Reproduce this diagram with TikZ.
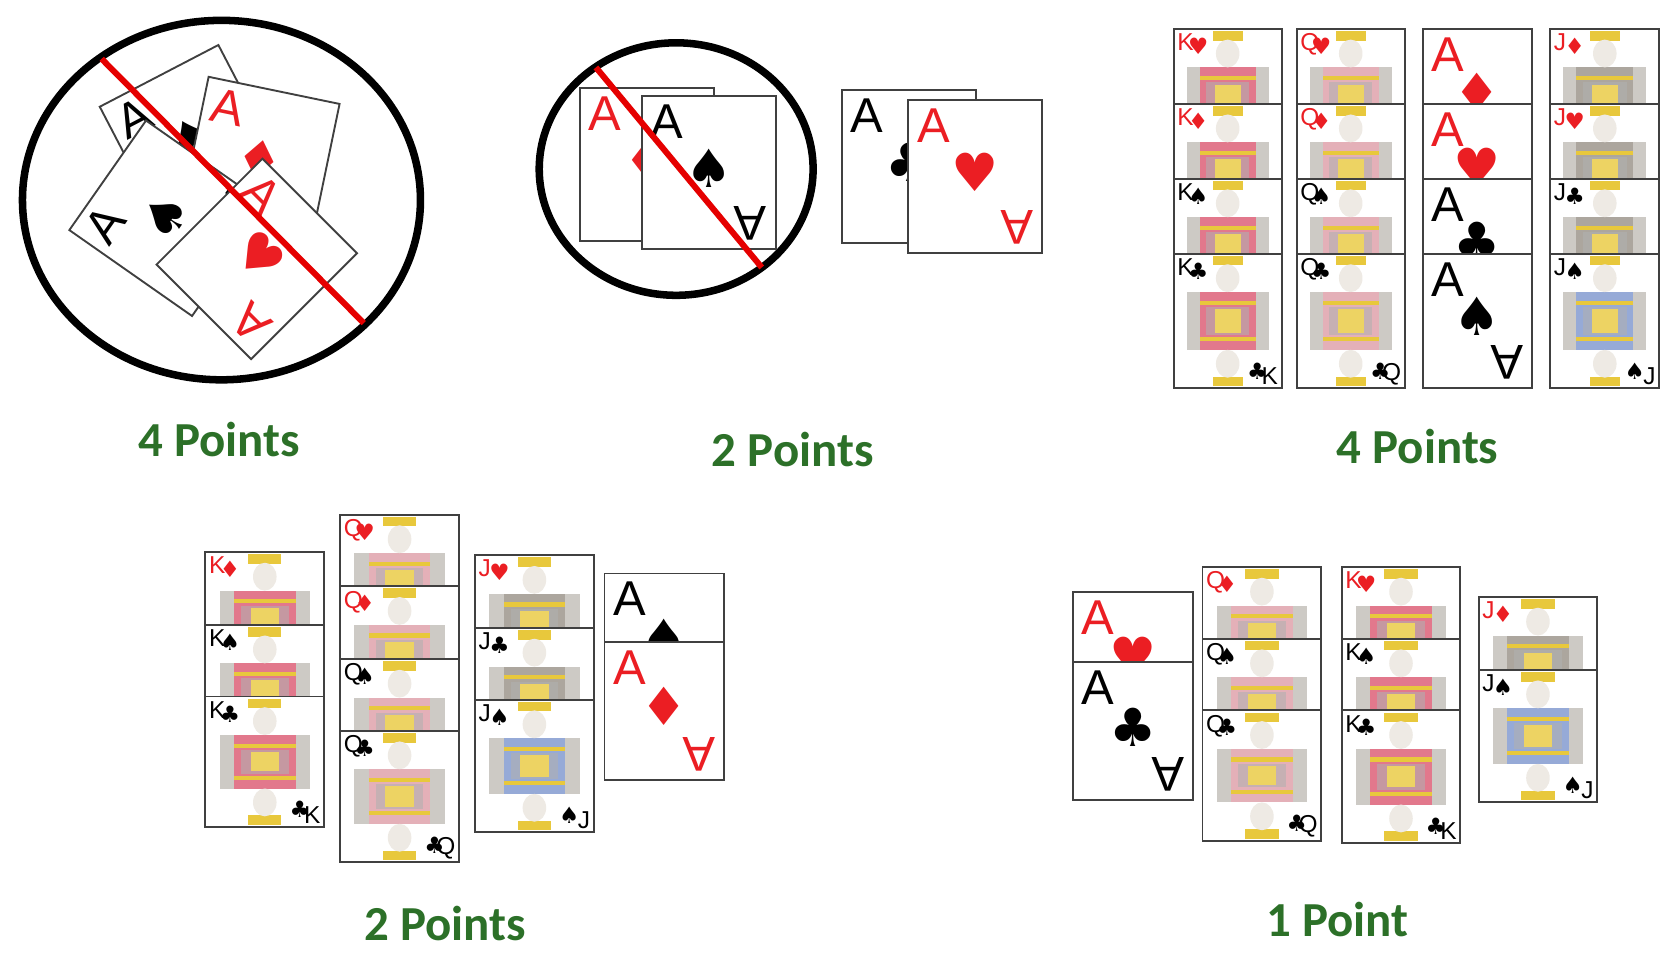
\documentclass[tikz,border=0pt]{standalone}
\usepackage{fontspec}
\setmainfont{Carlito}
\newfontfamily\arf{Liberation Sans}
\newfontfamily\djf{DejaVu Sans}
\definecolor{ptgreen}{RGB}{44,112,40}
\definecolor{cardred}{RGB}{235,30,35}
\definecolor{crownc}{RGB}{232,200,60}
\definecolor{skinc}{RGB}{238,234,228}
\definecolor{kingc}{RGB}{226,120,140}
\definecolor{queenc}{RGB}{228,176,184}
\definecolor{jackc}{RGB}{172,166,158}
\definecolor{jblue}{RGB}{150,170,215}
\tikzset{
  cardline/.style={draw=black!75,line width=0.5pt},
  acel/.style={font=\arf\fontsize{13}{13}\selectfont,inner sep=1pt},
  suitl/.style={font=\djf\fontsize{14}{14}\selectfont,inner sep=0pt},
  idx/.style={font=\arf\fontsize{6.5}{6.5}\selectfont,inner sep=0.5pt},
  idxs/.style={font=\djf\fontsize{6}{6}\selectfont,inner sep=0.5pt},
  pts/.style={font=\bfseries\fontsize{13}{14}\selectfont,text=ptgreen},
  ring/.style={draw=black,line width=2pt},
  cut/.style={draw=red!90!black,line width=1.6pt}
}
% ace card: cx cy rot w h color suit
\newcommand\ace[7]{%
\begin{scope}[shift={(#1,#2)},rotate=#3]
\filldraw[fill=white,cardline] (-#4/2,-#5/2) rectangle (#4/2,#5/2);
\node[acel,text=#6,anchor=north west,transform shape] at (-#4/2+4,-#5/2+4) {A};
\node[suitl,text=#6,transform shape] at (0,-4) {#7};
\node[acel,text=#6,rotate=180,anchor=north west,transform shape] at (#4/2-4,#5/2-4) {A};
\end{scope}}
% face card: x ytop w h letter color suit bodycolor
\newcommand\face[8]{%
\begin{scope}[shift={(#1,#2)}]
\fill[white] (0,0) rectangle (#3,#4);
\fill[#8] (0.12*#3,36) rectangle (0.88*#3,#4-36);
\fill[crownc] (0.12*#3,44) rectangle (0.88*#3,48);
\fill[crownc] (0.12*#3,#4-48) rectangle (0.88*#3,#4-44);
\fill[#8!70!black!60] (0.3*#3,50) rectangle (0.7*#3,#4-50);
\fill[crownc!80!white] (0.38*#3,52) rectangle (0.62*#3,#4-52);
\fill[jackc!60] (0.12*#3,36) rectangle (0.24*#3,#4-36);
\fill[jackc!60] (0.76*#3,36) rectangle (0.88*#3,#4-36);
\fill[crownc] (0.36*#3,2) rectangle (0.64*#3,11);
\fill[skinc] (0.5*#3,23) ellipse (11 and 13);
\fill[crownc] (0.36*#3,#4-2) rectangle (0.64*#3,#4-11);
\fill[skinc] (0.5*#3,#4-23) ellipse (11 and 13);
\draw[cardline] (0,0) rectangle (#3,#4);
\node[idx,text=#6,anchor=north west] at (1,2) {#5};
\node[idxs,text=#6,anchor=north west] at (11,6) {#7};
\node[idx,text=#6,anchor=south east] at (#3-1,#4-1) {#5};
\node[idxs,text=#6,anchor=south east] at (#3-11,#4-6) {#7};
\end{scope}}
% stacked ace: x ytop w h color suit
\newcommand\sace[6]{\ace{#1+#3/2}{#2+#4/2}{0}{#3}{#4}{#5}{#6}}
\begin{document}
\begin{tikzpicture}[x=0.01cm,y=-0.01cm]
\useasboundingbox (0,0) rectangle (1560,893);
% ---- panel 1
\draw[ring] (207,187) ellipse (186 and 168);
\ace{181}{133}{27.5}{125}{140}{black}{♠}
\ace{242}{153}{-11.7}{125}{140}{cardred}{♦}
\ace{158}{204}{55}{125}{140}{black}{♠}
\ace{240}{242}{-45}{125}{140}{cardred}{♥}
\draw[cut] (95,55) -- (340,302);
\node[pts] (p1) at (205,411) {4 Points};
% ---- panel 2
\draw[ring] (632,158) ellipse (128 and 118);
\ace{604.5}{153.5}{0}{125}{143}{cardred}{♦}
\ace{662.5}{161.5}{0}{125}{143}{black}{♠}
\draw[cut] (557,63) -- (712,250);
\ace{849.5}{155.5}{0}{125}{143}{black}{♣}
\ace{911.5}{165}{0}{125}{143}{cardred}{♥}
\node[pts] (p2) at (741,420) {2 Points};
% ---- panel 3
\face{1097}{27}{101}{126}{K}{cardred}{♥}{kingc}
\face{1097}{97}{101}{126}{K}{cardred}{♦}{kingc}
\face{1097}{167}{101}{126}{K}{black}{♠}{kingc}
\face{1097}{237}{101}{126}{K}{black}{♣}{kingc}
\face{1212}{27}{101}{126}{Q}{cardred}{♥}{queenc}
\face{1212}{97}{101}{126}{Q}{cardred}{♦}{queenc}
\face{1212}{167}{101}{126}{Q}{black}{♠}{queenc}
\face{1212}{237}{101}{126}{Q}{black}{♣}{queenc}
\sace{1330}{27}{102}{126}{cardred}{♦}
\sace{1330}{97}{102}{126}{cardred}{♥}
\sace{1330}{167}{102}{126}{black}{♣}
\sace{1330}{237}{102}{126}{black}{♠}
\face{1449}{27}{102}{126}{J}{cardred}{♦}{jackc}
\face{1449}{97}{102}{126}{J}{cardred}{♥}{jackc}
\face{1449}{167}{102}{126}{J}{black}{♣}{jackc}
\face{1449}{237}{102}{126}{J}{black}{♠}{jblue}
\node[pts] (p3) at (1325,417) {4 Points};
% ---- panel 4
\face{192}{516}{111}{122}{K}{cardred}{♦}{kingc}
\face{192}{584}{111}{122}{K}{black}{♠}{kingc}
\face{192}{651}{111}{122}{K}{black}{♣}{kingc}
\face{318}{481}{111}{123}{Q}{cardred}{♥}{queenc}
\face{318}{548}{111}{123}{Q}{cardred}{♦}{queenc}
\face{318}{616}{111}{123}{Q}{black}{♠}{queenc}
\face{318}{683}{111}{123}{Q}{black}{♣}{queenc}
\face{444}{519}{111}{124}{J}{cardred}{♥}{jackc}
\face{444}{587}{111}{124}{J}{black}{♣}{jackc}
\face{444}{654}{111}{124}{J}{black}{♠}{jblue}
\sace{565}{536}{112}{129}{black}{♠}
\sace{565}{600}{112}{129}{cardred}{♦}
\node[pts] (p4) at (416,863) {2 Points};
% ---- panel 5
\sace{1003}{553}{112}{129}{cardred}{♥}
\sace{1003}{619}{112}{129}{black}{♣}
\face{1124}{530}{111}{122}{Q}{cardred}{♦}{queenc}
\face{1124}{597}{111}{122}{Q}{black}{♠}{queenc}
\face{1124}{664}{111}{122}{Q}{black}{♣}{queenc}
\face{1254}{530}{111}{124}{K}{cardred}{♥}{kingc}
\face{1254}{597}{111}{124}{K}{black}{♠}{kingc}
\face{1254}{664}{111}{124}{K}{black}{♣}{kingc}
\face{1382}{558}{111}{124}{J}{cardred}{♦}{jackc}
\face{1382}{626}{111}{124}{J}{black}{♠}{jblue}
\node[pts] (p5) at (1250,859) {1 Point};
\end{tikzpicture}
\end{document}
